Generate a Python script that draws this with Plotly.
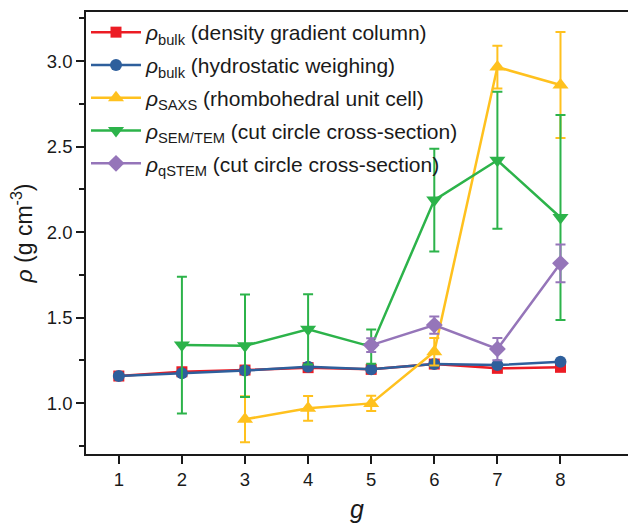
import plotly.graph_objects as go

g_all = [1, 2, 3, 4, 5, 6, 7, 8]
rho_dgc = [1.158, 1.183, 1.193, 1.207, 1.197, 1.228, 1.203, 1.209]
rho_hw = [1.158, 1.174, 1.190, 1.212, 1.197, 1.228, 1.222, 1.241]

g_saxs = [3, 4, 5, 6, 7, 8]
rho_saxs = [0.905, 0.969, 0.998, 1.300, 2.965, 2.860]
err_saxs = [0.135, 0.072, 0.045, 0.080, 0.125, 0.310]

g_sem = [2, 3, 4, 5, 6, 7, 8]
rho_sem = [1.339, 1.335, 1.431, 1.330, 2.187, 2.420, 2.085]
err_sem = [0.400, 0.300, 0.205, 0.100, 0.300, 0.400, 0.600]

g_qstem = [5, 6, 7, 8]
rho_qstem = [1.339, 1.456, 1.316, 1.817]
err_qstem = [0.040, 0.050, 0.065, 0.110]

names = [
    "<i>ρ</i><sub>bulk</sub> (density gradient column)",
    "<i>ρ</i><sub>bulk</sub> (hydrostatic weighing)",
    "<i>ρ</i><sub>SAXS</sub> (rhombohedral unit cell)",
    "<i>ρ</i><sub>SEM/TEM</sub> (cut circle cross-section)",
    "<i>ρ</i><sub>qSTEM</sub> (cut circle cross-section)",
]

RED = "#ec1c24"
BLUE = "#2e5f9c"
YELLOW = "#ffc11e"
GREEN = "#2cb34a"
PURPLE = "#9575b9"

fig = go.Figure()

def add(x, y, err, name, color, symbol, size, rank):
    eb = None
    if err is not None:
        eb = dict(type="data", array=err, visible=True, color=color, thickness=2, width=5)
    fig.add_trace(go.Scatter(
        x=x, y=y, name=name, mode="lines+markers",
        line=dict(color=color, width=2.5),
        marker=dict(color=color, symbol=symbol, size=size),
        error_y=eb, legendrank=rank, legendgroup="g%d" % rank,
    ))

add(g_all, rho_dgc, None, names[0], RED, "square", 11, 1)
add(g_all, rho_hw, None, names[1], BLUE, "circle", 12, 2)
add(g_saxs, rho_saxs, err_saxs, names[2], YELLOW, "triangle-up", 14, 3)
add(g_sem, rho_sem, err_sem, names[3], GREEN, "triangle-down", 14, 4)
add(g_qstem, rho_qstem, err_qstem, names[4], PURPLE, "diamond", 13, 5)

font_family = "Liberation Sans, Arial, sans-serif"

fig.update_layout(
    width=628, height=523,
    margin=dict(l=86, r=0, t=12, b=69),
    paper_bgcolor="white", plot_bgcolor="white",
    font=dict(family=font_family, size=18, color="#1a1a1a"),
    showlegend=True,
    legend=dict(
        x=0.0, y=1.0, xanchor="left", yanchor="top",
        bgcolor="rgba(0,0,0,0)", borderwidth=0,
        font=dict(size=21, family=font_family, color="#1a1a1a"),
        itemwidth=50, tracegroupgap=2.5,
    ),
    xaxis=dict(
        range=[0.48, 9.07], tickmode="array", tickvals=g_all,
        ticktext=[str(v) for v in g_all],
        showgrid=False, zeroline=False, automargin=False,
        showline=True, linecolor="#1a1a1a", linewidth=1.5, mirror=True,
        ticks="outside", ticklen=8, tickwidth=1.5, tickcolor="#1a1a1a",
        tickfont=dict(size=18.5),
        title=dict(text="<i>g</i>", font=dict(size=25), standoff=14),
    ),
    yaxis=dict(
        range=[0.702, 3.287], tickmode="linear", tick0=1.0, dtick=0.5,
        tickformat=".1f",
        showgrid=False, zeroline=False, automargin=False,
        showline=True, linecolor="#1a1a1a", linewidth=1.5, mirror=False,
        ticks="outside", ticklen=8, tickwidth=1.5, tickcolor="#1a1a1a",
        minor=dict(dtick=0.25, tick0=0.75, ticks="outside", ticklen=5, tickwidth=1.5, tickcolor="#1a1a1a"),
        tickfont=dict(size=18.5),
        title=dict(text="<i>ρ</i> (g cm<sup>-3</sup>)", font=dict(size=23), standoff=8),
    ),
)

fig.write_html(
    "out.html",
    config={"displayModeBar": False},
    post_script="document.body.style.margin='0';document.body.style.overflow='hidden';",
)
